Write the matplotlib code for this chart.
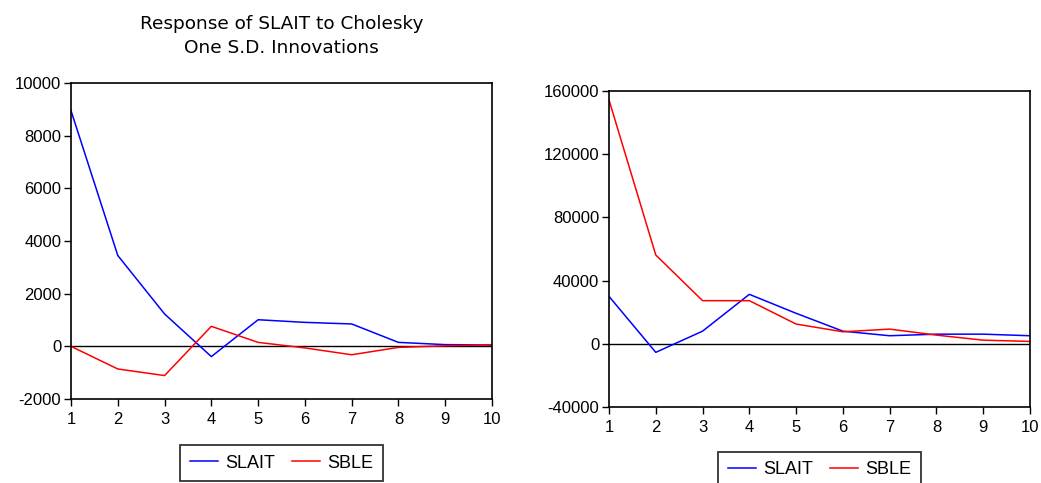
import matplotlib
matplotlib.use("Agg")
import matplotlib.pyplot as plt

plt.rcParams['font.family'] = ['Liberation Sans', 'DejaVu Sans']
plt.rcParams['axes.unicode_minus'] = False

periods = list(range(1, 11))

# response of SLAIT
slait_to_slait = [8950, 3450, 1230, -390, 1010, 910, 850, 150, 65, 50]
slait_to_sble = [0, -860, -1110, 760, 150, -60, -320, -40, 20, 60]

# response of SBLE
sble_to_slait = [30000, -5400, 8000, 31300, 19300, 8000, 5100, 6100, 6100, 5100]
sble_to_sble = [154300, 56200, 27300, 27300, 12500, 7600, 9300, 5500, 2300, 1500]

left_yticks = [-2000, 0, 2000, 4000, 6000, 8000, 10000]
right_yticks = [-40000, 0, 40000, 80000, 120000, 160000]

title = "Response of SLAIT to Cholesky\nOne S.D. Innovations"
series_names = ["SLAIT", "SBLE"]

W, H = 1041, 483
fig = plt.figure(figsize=(W / 100, H / 100), dpi=100)


def box(x0, y0, x1, y1):
    return [x0 / W, 1 - y1 / H, (x1 - x0) / W, (y1 - y0) / H]


ax1 = fig.add_axes(box(71, 83, 492, 399))
ax2 = fig.add_axes(box(609, 91, 1030, 407))


def draw(ax, blue, red, yticks, legend_y):
    ax.axhline(0, color='black', lw=1.0, zorder=1)
    l1, = ax.plot(periods, blue, color='#0000ff', lw=1.1, label=series_names[0])
    l2, = ax.plot(periods, red, color='#ff0000', lw=1.1, label=series_names[1])
    ax.set_xlim(1, 10)
    ax.set_ylim(yticks[0], yticks[-1])
    ax.set_xticks(periods)
    ax.set_yticks(yticks)
    ax.tick_params(direction='out', length=5, width=1, labelsize=12,
                   colors='black')
    ax.tick_params(axis='y', pad=2)
    ax.tick_params(axis='x', pad=4)
    for s in ax.spines.values():
        s.set_linewidth(1.2)
    cx = (ax.get_position().x0 + ax.get_position().x1) / 2
    leg = fig.legend(handles=[l1, l2], loc='center', ncol=2,
                     bbox_to_anchor=(cx, legend_y), fontsize=13,
                     frameon=True, fancybox=False, handlelength=1.55,
                     columnspacing=0.95, handletextpad=0.4,
                     borderpad=0.55, borderaxespad=0)
    leg.get_frame().set_edgecolor('black')
    leg.get_frame().set_linewidth(1.3)


draw(ax1, slait_to_slait, slait_to_sble, left_yticks, 1 - 463 / H)
draw(ax2, sble_to_slait, sble_to_sble, right_yticks, 1 - 470 / H)

fig.text((71 + 492) / 2 / W, 1 - 36 / H, title, ha='center', va='center',
         fontsize=13.3, linespacing=1.38, family='DejaVu Sans')

fig.savefig('out.png', dpi=100)
